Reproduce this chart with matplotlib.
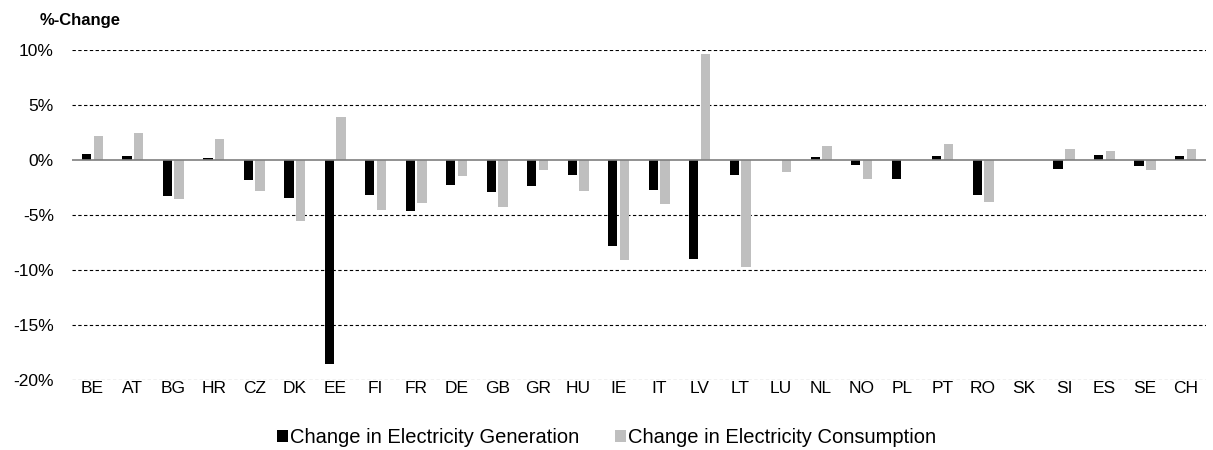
import matplotlib
matplotlib.use("Agg")
import matplotlib.pyplot as plt
import numpy as np
from matplotlib.ticker import FuncFormatter
from matplotlib.patches import Patch

countries = ["BE", "AT", "BG", "HR", "CZ", "DK", "EE", "FI", "FR", "DE", "GB", "GR", "HU", "IE",
             "IT", "LV", "LT", "LU", "NL", "NO", "PL", "PT", "RO", "SK", "SI", "ES", "SE", "CH"]
generation = [0.5, 0.34, -3.27, 0.18, -1.85, -3.5, -18.6, -3.24, -4.7, -2.3, -2.94, -2.39, -1.39, -7.88,
              -2.79, -9.0, -1.42, 0.0, 0.25, -0.45, -1.73, 0.3, -3.2, 0.0, -0.9, 0.45, -0.6, 0.3]
consumption = [2.15, 2.45, -3.55, 1.88, -2.82, -5.55, 3.85, -4.57, -3.97, -1.45, -4.33, -0.97, -2.9, -9.09,
               -4.03, 9.6, -9.73, -1.15, 1.25, -1.76, -0.05, 1.43, -3.9, 0.0, 0.94, 0.82, -0.97, 0.94]
y_ticks = [-20, -15, -10, -5, 0, 5, 10]

plt.rcParams["font.family"] = ["Liberation Sans", "DejaVu Sans"]

fig = plt.figure(figsize=(12.13, 4.5), dpi=100)
ax = fig.add_axes([0.0594, 0.1562, 0.9346, 0.7338])

x = np.arange(len(countries))
w = 0.23
gen_color = "#000000"
con_color = "#bfbfbf"
ax.bar(x - 0.145, generation, width=w, color=gen_color, zorder=3)
ax.bar(x + 0.145, consumption, width=w, color=con_color, zorder=3)

ax.set_xlim(-0.5, len(countries) - 0.5)
ax.set_ylim(-20, 10)
ax.set_yticks(y_ticks)
ax.yaxis.set_major_formatter(FuncFormatter(lambda v, _: f"{v:.0f}%"))
for t in y_ticks:
    if t != 0:
        ax.axhline(t, color="#000000", lw=0.8, linestyle=(0, (3, 2.2)), zorder=1)
ax.axhline(0, color="#7f7f7f", lw=1.2, zorder=4)

ax.set_xticks(x)
ax.set_xticklabels(countries)
ax.tick_params(axis="both", length=0, labelsize=12.5, colors="#000000")
ax.tick_params(axis="x", pad=1)
ax.tick_params(axis="y", pad=13)
for s in ax.spines.values():
    s.set_visible(False)

fig.text(0.033, 0.955, "%-Change", fontsize=12, fontweight="bold", ha="left", va="center")

handles = [Patch(facecolor=gen_color, label="Change in Electricity Generation"),
           Patch(facecolor=con_color, label="Change in Electricity Consumption")]
fig.legend(handles=handles, loc="center", bbox_to_anchor=(0.5, 0.028), ncol=2, frameon=False,
           fontsize=14.5, handlelength=0.55, handleheight=0.55, handletextpad=0.1, columnspacing=1.8)

fig.savefig("out.png", dpi=100)
